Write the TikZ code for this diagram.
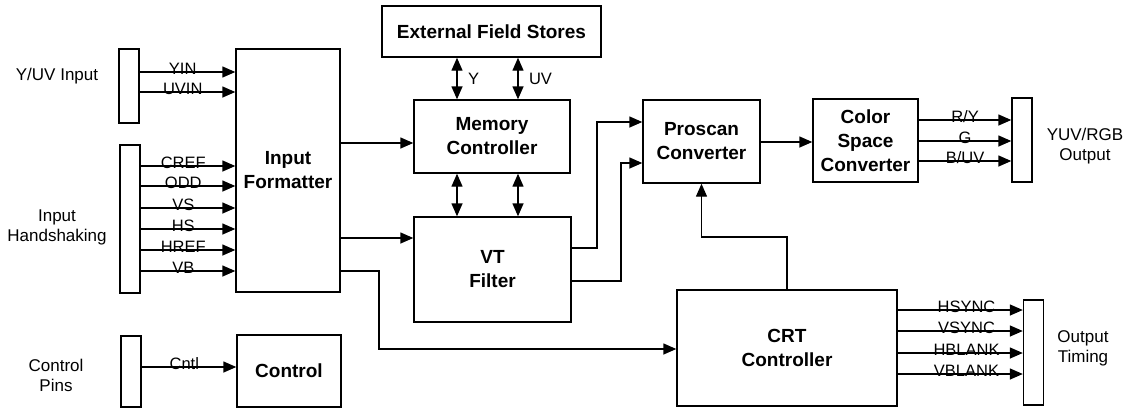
\documentclass[tikz,border=0pt]{standalone}
\usepackage{fontspec}
\setmainfont{Liberation Sans}
\usetikzlibrary{positioning,arrows.meta,calc}

\tikzset{
  blk/.style={draw, line width=1.4pt, inner sep=0pt, align=center,
    font=\fontsize{19}{24}\selectfont\bfseries},
  pinbar/.style={draw, line width=1.4pt, inner sep=0pt, minimum width=20pt},
  side/.style={align=center, font=\fontsize{17}{20}\selectfont},
  sig/.style={-{Triangle[length=13pt,width=11pt]}, line width=1.4pt},
  bus/.style={{Triangle[length=13pt,width=11pt]}-{Triangle[length=13pt,width=11pt]}, line width=1.4pt},
  lbl/.style={font=\fontsize{16.5}{18}\selectfont, anchor=base, inner sep=0pt, yshift=-2pt}
}

\begin{document}
\begin{tikzpicture}[x=1pt,y=-1pt]
        \useasboundingbox (0,0) rectangle (1128,408);

        % Draw blocks
        \node[blk, minimum width=104pt, minimum height=243pt] (fmt) at (288,170.5) {Input\\Formatter};
        \node[blk, minimum width=104pt, minimum height=72pt] (ctrl) at (289,371) {Control};
        \node[blk, minimum width=219pt, minimum height=51pt] (efs) at (491.5,31.5) {External Field Stores};
        \node[blk, minimum width=156pt, minimum height=73pt] (mem) at (492,136.5) {Memory\\Controller};
        \node[blk, minimum width=157pt, minimum height=105pt] (vt) at (492.5,269.5) {VT\\Filter};
        \node[blk, minimum width=117pt, minimum height=83pt] (pro) at (701.5,141.5) {Proscan\\Converter};
        \node[blk, minimum width=105pt, minimum height=83pt] (csc) at (865.5,140.5) {Color\\Space\\Converter};
        \node[blk, minimum width=220pt, minimum height=116pt] (crt) at (787,348) {CRT\\Controller};

        % Draw pin bars
        \node[pinbar, minimum height=74pt] (yuvbar) at (129,86) {};
        \node[pinbar, minimum height=148pt] (hsbar) at (130,219) {};
        \node[pinbar, minimum height=71pt] (ctlbar) at (131,371.5) {};
        \node[pinbar, minimum height=84pt] (rgbbar) at (1022,140) {};
        \node[pinbar, minimum height=105pt] (otbar) at (1033.5,352.5) {};

        % Pin labels
        \node[side] (yuvlbl) at (57,76) {Y/UV Input};
        \node[side] (hslbl) at (57,227) {Input\\Handshaking};
        \node[side] (ctllbl) at (56,375) {Control\\Pins};
        \node[side] (rgblbl) at (1085,146) {YUV/RGB\\Output};
        \node[side] (otlbl) at (1083,348) {Output\\Timing};

        % Input signals
        \foreach \y/\txt in {72/YIN, 92/UVIN}
            \draw[sig] (yuvbar.east |- 0,\y) -- node[lbl, pos=0.45] {\txt} (fmt.west |- 0,\y);
        \foreach \y/\txt in {166/CREF, 186/ODD, 208/VS, 229/HS, 250/HREF, 271/VB}
            \draw[sig] (hsbar.east |- 0,\y) -- node[lbl, pos=0.45] {\txt} (fmt.west |- 0,\y);
        \draw[sig] (ctlbar.east |- 0,367) -- node[lbl, pos=0.45] {Cntl} (ctrl.west |- 0,367);

        % Field store buses
        \foreach \x/\txt in {457/Y, 518/UV} {
            \draw[bus] (efs.south -| \x,0) -- node[right=7pt, font=\fontsize{16.5}{18}\selectfont] {\txt} (mem.north -| \x,0);
            \draw[bus] (mem.south -| \x,0) -- (vt.north -| \x,0);
        }

        % Data path
        \draw[sig] (fmt.east |- 0,143) -- (mem.west |- 0,143);
        \draw[sig] (fmt.east |- 0,238) -- (vt.west |- 0,238);
        \draw[sig] (fmt.east |- 0,271) -| (379,349) -- (crt.west |- 0,349);
        \draw[sig] (vt.east |- 0,248) -| (597,122) -- (pro.west |- 0,122);
        \draw[sig] (vt.east |- 0,281) -| (621,163) -- (pro.west |- 0,163);
        \draw[sig] (pro.east |- 0,142) -- (csc.west |- 0,142);
        \draw[sig] (crt.north) |- (pro.south |- 0,237) -- (pro.south);

        % Output signals
        \foreach \y/\txt in {120/{R/Y}, 141/G, 161/{B/UV}}
            \draw[sig] (csc.east |- 0,\y) -- node[lbl] {\txt} (rgbbar.west |- 0,\y);
        \foreach \y/\txt in {310/HSYNC, 331/VSYNC, 353/HBLANK, 374/VBLANK}
            \draw[sig] (crt.east |- 0,\y) -- node[lbl, pos=0.55] {\txt} (otbar.west |- 0,\y);
    \end{tikzpicture}
\end{document}
